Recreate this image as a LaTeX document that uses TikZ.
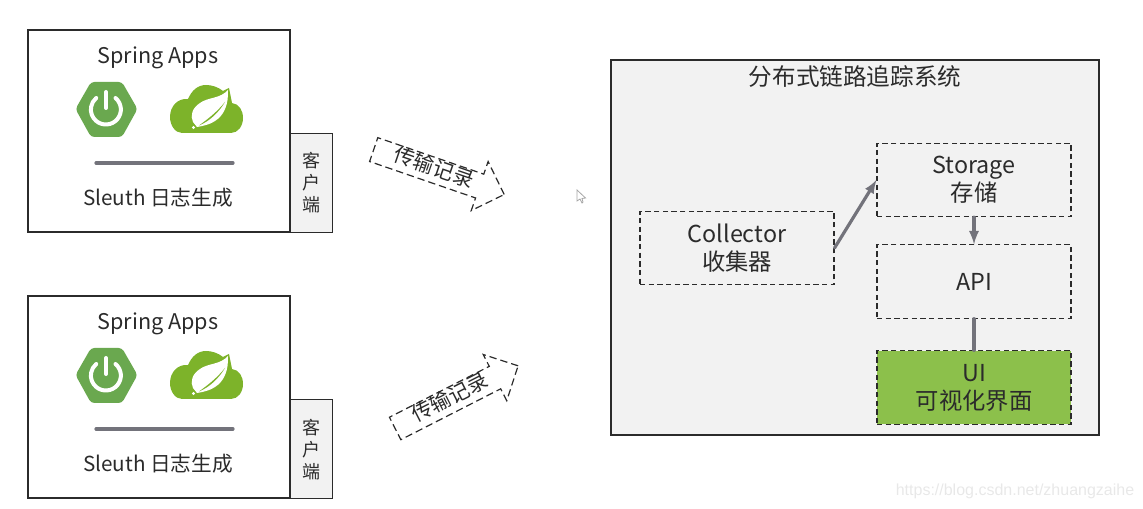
\documentclass[tikz,border=0pt]{standalone}
\usepackage{fontspec}
\setmainfont{Noto Sans CJK SC}
\usetikzlibrary{arrows,shapes.arrows}

\definecolor{linegray}{HTML}{73737B}
\definecolor{boxgray}{HTML}{F2F2F2}
\definecolor{edgedark}{HTML}{2B2B2B}
\definecolor{bootgreen}{HTML}{6AA84F}
\definecolor{cloudgreen}{HTML}{7DB32A}
\definecolor{uigreen}{HTML}{8CC04B}
\definecolor{textdark}{HTML}{2B2B2B}

\tikzset{
	x=0.75pt,y=-0.75pt,
	every node/.style={text=textdark},
	appbox/.style={draw=edgedark,line width=1.5pt,minimum width=196.5pt,minimum height=151.5pt},
	clientbox/.style={draw=edgedark,line width=0.9pt,fill=boxgray,minimum width=31.5pt,minimum height=74.25pt,align=center,inner sep=0pt,font=\fontsize{13.5}{16.5}\selectfont},
	applabel/.style={font=\fontsize{15.5}{18}\selectfont},
	dashbox/.style={draw=edgedark,dash pattern=on 4pt off 2.5pt,line width=0.8pt,minimum width=145.5pt,minimum height=55pt,align=center,inner sep=0pt,font=\fontsize{17.5}{21}\selectfont},
	sendarrow/.style={single arrow,draw=edgedark,dash pattern=on 5.5pt off 3pt,line width=0.9pt,minimum height=103.5pt,single arrow head extend=10pt,text height=10pt,text depth=3pt,inner sep=2.5pt,inner xsep=0pt,font=\fontsize{15.5}{18}\selectfont},
	link/.style={draw=linegray,line width=2.4pt,line cap=round}
}

% one application box, the y offset comes as #1
\newcommand{\springapp}[2]{
	\node[appbox] (app#2) at (159,131+#1) {};
	\node[clientbox,anchor=north west] (client#2) at (290,133+#1) {客\\户\\端};
	\node[applabel,font=\fontsize{16.2}{18}\selectfont] (title#2) at (158,57.5+#1) {Spring Apps};
	\node[applabel] (sleuth#2) at (158,198+#1) {Sleuth 日志生成};
	\coordinate (ruleleft#2) at (96,163+#1);
	\coordinate (ruleright#2) at (233,163+#1);
	\draw[link] (ruleleft#2) -- (ruleright#2);
	\begin{scope}[shift={(0,#1)}]
		% boot logo
		\fill[bootgreen,rounded corners=2.5pt]
			(75.5,109) -- (91,82) -- (122,82) -- (137.5,109) -- (122,137) -- (91,137) -- cycle;
		\draw[white,line width=3pt,line cap=round] (115.5,98) arc[start angle=-50,end angle=230,radius=15];
		\draw[white,line width=3pt,line cap=round] (106,92) -- (106,108);
		% cloud logo
		\fill[cloudgreen]
			(182,133) .. controls (175,133) and (170,125) .. (170,117)
			.. controls (170,106) and (178,98) .. (188,99)
			.. controls (192,90) and (198,85) .. (206,85)
			.. controls (212,85) and (218,87) .. (223,91)
			-- (229,88) -- (232,103)
			.. controls (239,104) and (243,110) .. (243,118)
			.. controls (243,126) and (238,133) .. (231,133) -- cycle;
		\fill[white]
			(228,90) .. controls (220,99) and (208,97) .. (200,103)
			.. controls (192,108) and (190,116) .. (193,122)
			-- (197,127) .. controls (210,125) and (229,120) .. (228,90) -- cycle;
		\fill[cloudgreen] (199,125.5) .. controls (208,119) and (217,112) .. (225,102) .. controls (219,112) and (210,121) .. (199,125.5) -- cycle;
		\fill[white] (193.5,127.5) circle[radius=1.7];
	\end{scope}
}

\begin{document}
\begin{tikzpicture}
	\useasboundingbox (0,0) rectangle (1143,509);

	\springapp{0}{a}
	\springapp{266}{b}

	\node[sendarrow,rotate=-19] (senda) at (433,170) {传输记录};
	\node[sendarrow,rotate=27] (sendb) at (451,400) {传输记录};

	% mouse pointer
	\draw[draw=gray!70,fill=white,line width=0.6pt]
		(577,190) -- (577,201) -- (580,199) -- (582,203) -- (583,202) -- (582,198.5) -- (585.5,198) -- cycle;

	\node[draw=edgedark,line width=0.9pt,fill=boxgray,minimum width=366pt,minimum height=281.25pt] (tracing) at (855,247.5) {};
	\node[font=\fontsize{17.7}{20}\selectfont] (tracingtitle) at (855,77) {分布式链路追踪系统};

	\node[dashbox] (collector) at (737,248) {Collector\\收集器};
	\node[dashbox] (storage) at (974,180) {Storage\\存储};
	\node[dashbox] (api) at (974,281.5) {API};
	\node[dashbox,fill=uigreen] (ui) at (974,387.5) {UI\\可视化界面};

	\draw[link,-latex] (collector.east) -- (storage.west);
	\draw[link,-latex] (storage.south) -- (api.north);
	\draw[link] (api.south) -- (ui.north);

	\node[text=black!9,font=\fontsize{12}{15}\selectfont\fontspec{Liberation Sans}] (mark) at (1015,491) {https://blog.csdn.net/zhuangzaihe};
\end{tikzpicture}
\end{document}
